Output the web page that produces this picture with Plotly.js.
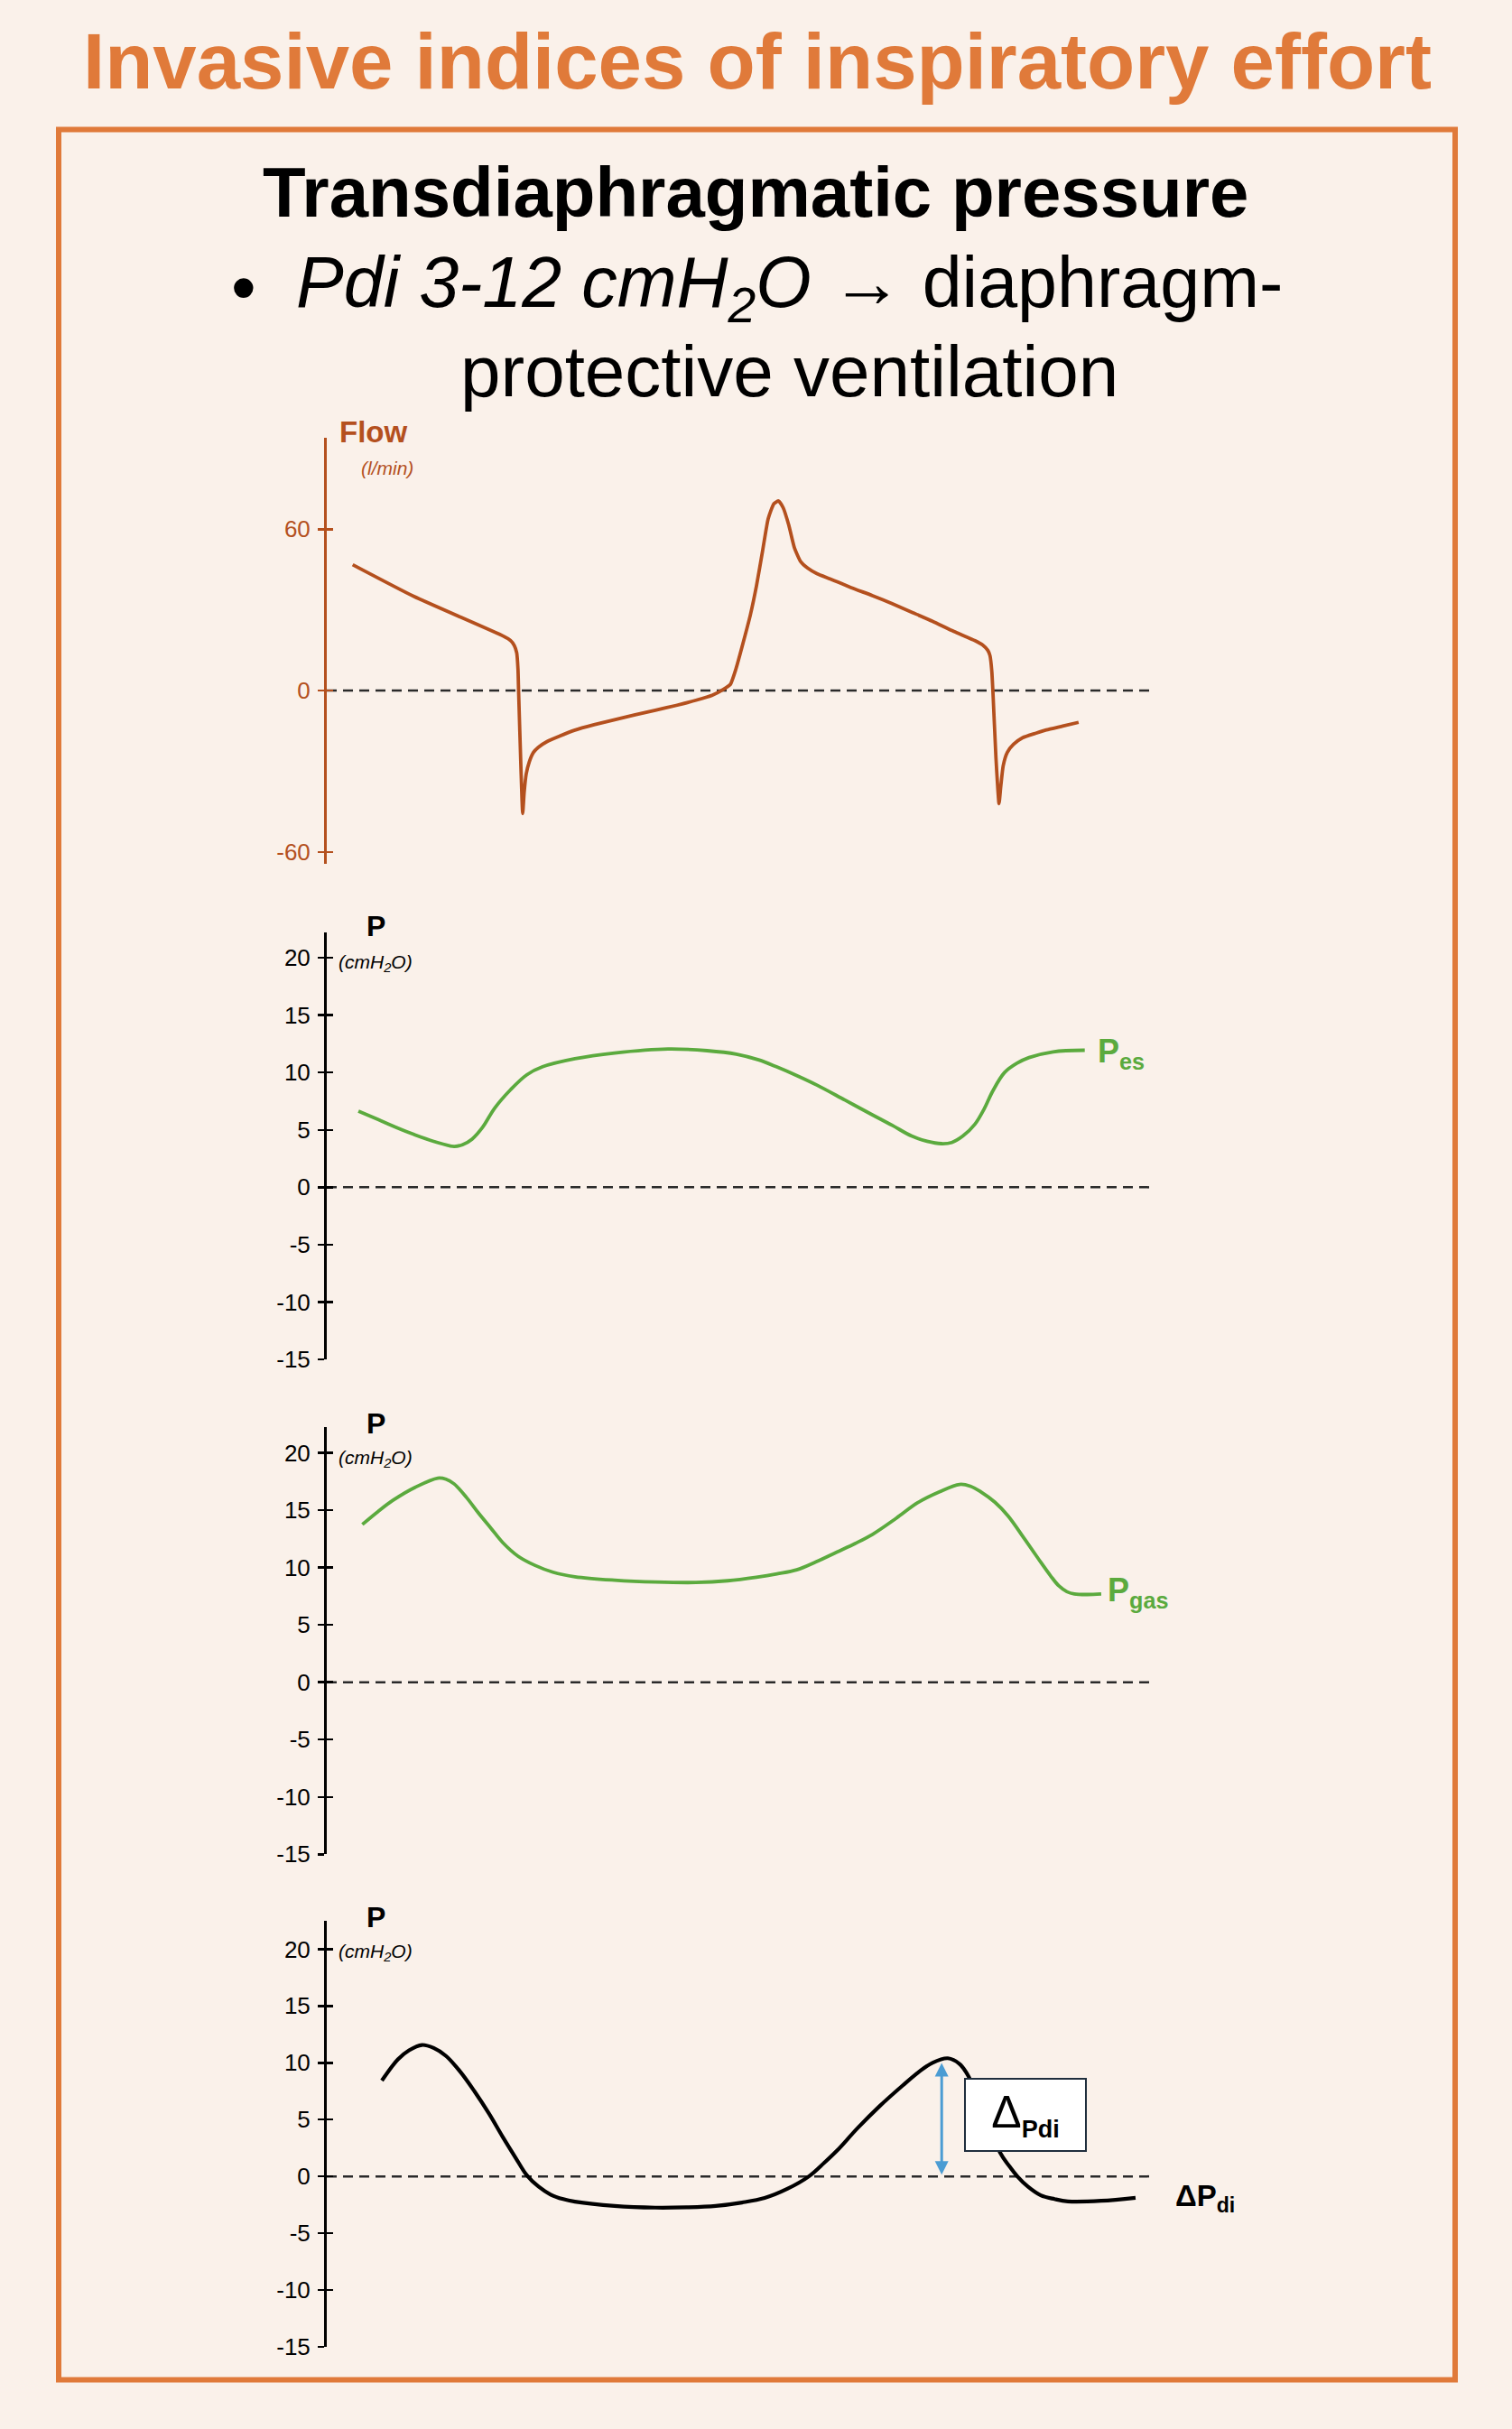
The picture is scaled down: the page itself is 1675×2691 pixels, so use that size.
<!DOCTYPE html>
<html><head><meta charset="utf-8">
<script src="https://cdn.plot.ly/plotly-3.0.1.min.js"></script>
<style>html,body{margin:0;padding:0;background:#FAF1EA;}#chart{width:1675px;height:2691px;}</style>
</head><body><div id="chart"></div>
<script>
// ---- data (time in s, flow in l/min, pressures in cmH2O) ----
const flowTime = [0.126, 0.424, 0.86, 0.894, 0.912, 0.924, 0.93, 0.933, 0.945, 0.953, 0.96, 0.97, 0.985, 1.005, 1.03, 1.07, 1.13, 1.207, 1.3, 1.4, 1.5, 1.598, 1.7, 1.8, 1.875, 1.93, 1.963, 1.99, 2.02, 2.06, 2.09, 2.12, 2.147, 2.175, 2.198, 2.22, 2.247, 2.275, 2.305, 2.34, 2.384, 2.45, 2.55, 2.655, 2.75, 2.85, 2.946, 3.05, 3.153, 3.19, 3.215, 3.226, 3.235, 3.24, 3.255, 3.27, 3.278, 3.29, 3.31, 3.34, 3.385, 3.45, 3.5, 3.58, 3.657];
const flowValues = [46.8, 35, 20.2, 18.6, 16.8, 14, 8, 0, -30, -45.7, -38, -31, -26.5, -23, -21, -19, -17, -14.7, -12.7, -10.8, -9, -7.3, -5.5, -3.5, -1.7, 0.5, 2.3, 8, 16.3, 28, 38.9, 52, 63.9, 69.5, 70.5, 68, 61.6, 53, 48, 45.5, 43.5, 41.5, 38.3, 35.3, 32.3, 29, 25.8, 22, 18.6, 17, 15, 13, 7, 0, -25, -42, -36, -28, -23, -20, -17.5, -15.8, -14.6, -13.2, -11.8];

const pesTime = [0.154, 0.25, 0.34, 0.424, 0.52, 0.619, 0.66, 0.707, 0.757, 0.817, 0.894, 0.973, 1.05, 1.207, 1.4, 1.66, 1.85, 1.992, 2.1, 2.187, 2.29, 2.384, 2.52, 2.655, 2.75, 2.845, 2.92, 2.99, 3.04, 3.094, 3.153, 3.197, 3.24, 3.297, 3.357, 3.416, 3.533, 3.687];
const pesValues = [6.64, 5.9, 5.2, 4.6, 4.0, 3.56, 3.7, 4.2, 5.2, 6.9, 8.5, 9.8, 10.5, 11.2, 11.7, 12.05, 11.9, 11.6, 11.1, 10.5, 9.7, 8.9, 7.6, 6.3, 5.4, 4.46, 4.0, 3.8, 3.9, 4.46, 5.5, 6.8, 8.4, 10, 10.8, 11.3, 11.8, 11.94];

const pgasTime = [0.173, 0.25, 0.325, 0.43, 0.54, 0.58, 0.619, 0.68, 0.738, 0.80, 0.855, 0.93, 1.012, 1.1, 1.207, 1.4, 1.598, 1.796, 1.95, 2.09, 2.19, 2.286, 2.38, 2.481, 2.57, 2.655, 2.77, 2.875, 2.98, 3.078, 3.13, 3.182, 3.25, 3.314, 3.39, 3.46, 3.52, 3.561, 3.60, 3.636, 3.70, 3.767];
const pgasValues = [13.76, 14.9, 15.9, 17.0, 17.8, 17.7, 17.3, 16.1, 14.75, 13.4, 12.2, 11.0, 10.2, 9.6, 9.2, 8.9, 8.74, 8.7, 8.85, 9.16, 9.45, 9.8, 10.5, 11.35, 12.1, 12.9, 14.3, 15.66, 16.6, 17.25, 17.1, 16.6, 15.7, 14.5, 12.6, 10.8, 9.3, 8.4, 7.9, 7.7, 7.65, 7.7];

const pdiTime = [0.268, 0.346, 0.40, 0.463, 0.52, 0.58, 0.65, 0.718, 0.79, 0.855, 0.92, 0.973, 1.03, 1.089, 1.15, 1.207, 1.4, 1.598, 1.75, 1.892, 2.02, 2.13, 2.24, 2.345, 2.42, 2.481, 2.582, 2.69, 2.801, 2.88, 2.946, 3.021, 3.078, 3.122, 3.275, 3.32, 3.359, 3.41, 3.473, 3.54, 3.605, 3.767, 3.934];
const pdiValues = [8.43, 10.3, 11.1, 11.57, 11.3, 10.6, 9.2, 7.5, 5.5, 3.5, 1.6, 0.1, -0.9, -1.6, -2.0, -2.22, -2.6, -2.75, -2.72, -2.6, -2.3, -1.9, -1.1, 0, 1.2, 2.25, 4.25, 6.2, 8.0, 9.2, 10.0, 10.4, 9.9, 8.8, 2.1, 0.9, 0, -0.9, -1.67, -2.0, -2.2, -2.15, -1.88];

const flowTicks = [-60, 0, 60];
const pressureTicks = [-15, -10, -5, 0, 5, 10, 15, 20];

// ---- styles ----
const BG = '#FAF1EA';
const ORANGE = '#E07A3A';
const RUST = '#B4501E';
const GREEN = '#5BAA3E';
const BLUE = '#4B9CD3';
const FONT = 'Liberation Sans, Arial, sans-serif';
const W = 1675, H = 2691;
const px = v => v / W;
const py = v => 1 - v / H;

const traces = [
  {x: flowTime, y: flowValues, xaxis: 'x', yaxis: 'y', mode: 'lines',
   line: {color: RUST, width: 3.8, shape: 'spline', smoothing: 0.5}},
  {x: pesTime, y: pesValues, xaxis: 'x', yaxis: 'y2', mode: 'lines',
   line: {color: GREEN, width: 3.8, shape: 'spline', smoothing: 1}},
  {x: pgasTime, y: pgasValues, xaxis: 'x', yaxis: 'y3', mode: 'lines',
   line: {color: GREEN, width: 3.8, shape: 'spline', smoothing: 1}},
  {x: pdiTime, y: pdiValues, xaxis: 'x', yaxis: 'y4', mode: 'lines',
   line: {color: '#000', width: 4.2, shape: 'spline', smoothing: 1}}
];
// empty traces on the overlay axes (inner half of cross ticks)
['y5','y6','y7','y8'].forEach(a => traces.push({x: [], y: [], xaxis: 'x', yaxis: a, mode: 'lines', showlegend: false}));

function yAxis(domain, range, ticks, color) {
  return {domain, range, tickvals: ticks, ticktext: ticks.map(v => String(v)),
    ticks: 'outside', ticklen: 7, tickwidth: 2.5,
    tickcolor: color, showline: true, linecolor: color, linewidth: 3, showgrid: false,
    zeroline: false, anchor: 'x', ticklabelstandoff: 3,
    tickfont: {family: FONT, size: 26, color}};
}
function overlayAxis(base, range, ticks, color) {
  return {overlaying: base, range, tickvals: ticks, ticks: 'inside', ticklen: 7, tickwidth: 2.5,
    tickcolor: color, showline: false, showgrid: false, zeroline: false, showticklabels: false, anchor: 'x'};
}

const flowRange = [-64.3, 94];
const pesRange = [-15, 22.2];
const pgasRange = [-15, 22.25];
const pdiRange = [-15, 22.5];

const layout = {
  width: W, height: H, margin: {l: 0, r: 0, t: 0, b: 0},
  paper_bgcolor: BG, plot_bgcolor: 'rgba(0,0,0,0)', showlegend: false, hovermode: false,
  xaxis: {domain: [px(362), px(1273)], range: [0, 4], visible: false, anchor: 'y'},
  yaxis: yAxis([py(956.7), py(485)], flowRange, flowTicks, RUST),
  yaxis2: yAxis([py(1506.1), py(1033)], pesRange, pressureTicks, '#000'),
  yaxis3: yAxis([py(2054.3), py(1581)], pgasRange, pressureTicks, '#000'),
  yaxis4: yAxis([py(2599.9), py(2128)], pdiRange, pressureTicks, '#000'),
  yaxis5: overlayAxis('y', flowRange, flowTicks, RUST),
  yaxis6: overlayAxis('y2', pesRange, pressureTicks, '#000'),
  yaxis7: overlayAxis('y3', pgasRange, pressureTicks, '#000'),
  yaxis8: overlayAxis('y4', pdiRange, pressureTicks, '#000'),
  shapes: [
    {type: 'rect', xref: 'paper', yref: 'paper', x0: px(65), x1: px(1612), y0: py(2636.5), y1: py(143.5),
     line: {color: ORANGE, width: 6}, fillcolor: 'rgba(0,0,0,0)', layer: 'below'},
  ].concat(['y','y2','y3','y4'].map(a => ({type: 'line', xref: 'x domain', yref: a, x0: 0, x1: 1, y0: 0, y1: 0,
     line: {color: '#2a2a2a', width: 2.5, dash: '11px,7px'}, layer: 'below'}))),
  annotations: []
};

const A = layout.annotations;
function txt(text, x, y, size, color, extra) {
  A.push(Object.assign({text, x, y, xref: 'paper', yref: 'paper', showarrow: false,
    xanchor: 'center', yanchor: 'middle', font: {family: FONT, size, color}}, extra || {}));
}
txt('<b>Invasive indices of inspiratory effort</b>', px(839), py(68), 87, ORANGE);
txt('<b>Transdiaphragmatic pressure</b>', px(837), py(213), 78, '#000');
txt('•', px(270), py(318), 79, '#000');
txt('<i>Pdi 3-12 cmH<sub>2</sub>O</i> → diaphragm-', px(874), py(318), 79, '#000');
txt('protective ventilation', px(874), py(411), 80, '#000');
txt('<b>Flow</b>', px(413), py(478), 33, RUST);
txt('<i>(l/min)</i>', px(429), py(518), 21, RUST);
[[1026, 1067], [1577, 1616], [2123.5, 2163]].forEach(([pY, uY]) => {
  txt('<b>P</b>', px(416), py(pY), 32, '#000');
  txt('<i>(cmH<sub>2</sub>O)</i>', px(416), py(uY), 21, '#000');
});

// curve labels, placed at the end of each series
A.push({text: '<b>P<sub>es</sub></b>', xref: 'x', yref: 'y2', x: 3.74, y: pesValues[pesValues.length-1],
  xanchor: 'left', yanchor: 'middle', showarrow: false, yshift: -4, font: {family: FONT, size: 36, color: GREEN}});
A.push({text: '<b>P<sub>gas</sub></b>', xref: 'x', yref: 'y3', x: 3.79, y: pgasValues[pgasValues.length-1],
  xanchor: 'left', yanchor: 'middle', showarrow: false, yshift: 2, font: {family: FONT, size: 36, color: GREEN}});
A.push({text: '<b>ΔP<sub>di</sub></b>', xref: 'paper', yref: 'y4', x: px(1300), y: pdiValues[pdiValues.length-1],
  xanchor: 'left', yanchor: 'middle', showarrow: false, yshift: 0, font: {family: FONT, size: 33, color: '#000'}});

// delta Pdi arrow from 0 to the second inspiratory peak
let iPk = 0;
pdiTime.forEach((t, i) => { if (t > 2.5 && (iPk === 0 || pdiValues[i] > pdiValues[iPk])) iPk = i; });
A.push({xref: 'x', yref: 'y4', axref: 'x', ayref: 'y4', x: pdiTime[iPk] - 0.03, y: 0.15,
  ax: pdiTime[iPk] - 0.03, ay: pdiValues[iPk] - 0.3, text: '', showarrow: true,
  arrowside: 'end+start', arrowhead: 2, startarrowhead: 2, arrowsize: 1, startarrowsize: 1,
  arrowwidth: 3, arrowcolor: BLUE, standoff: 0, startstandoff: 0});
// boxed label
A.push({text: 'Δ<sub><b><span style="font-size:27px">Pdi</span></b></sub>', xref: 'x', yref: 'y4',
  x: 3.10, y: 5.4, xanchor: 'left', yanchor: 'middle', showarrow: false,
  width: 128, height: 74, bgcolor: '#FFFFFF', bordercolor: '#1F2E3D', borderwidth: 2, borderpad: 2,
  font: {family: FONT, size: 50, color: '#000'}});

Plotly.newPlot('chart', traces, layout, {staticPlot: true, displayModeBar: false});
</script></body></html>
